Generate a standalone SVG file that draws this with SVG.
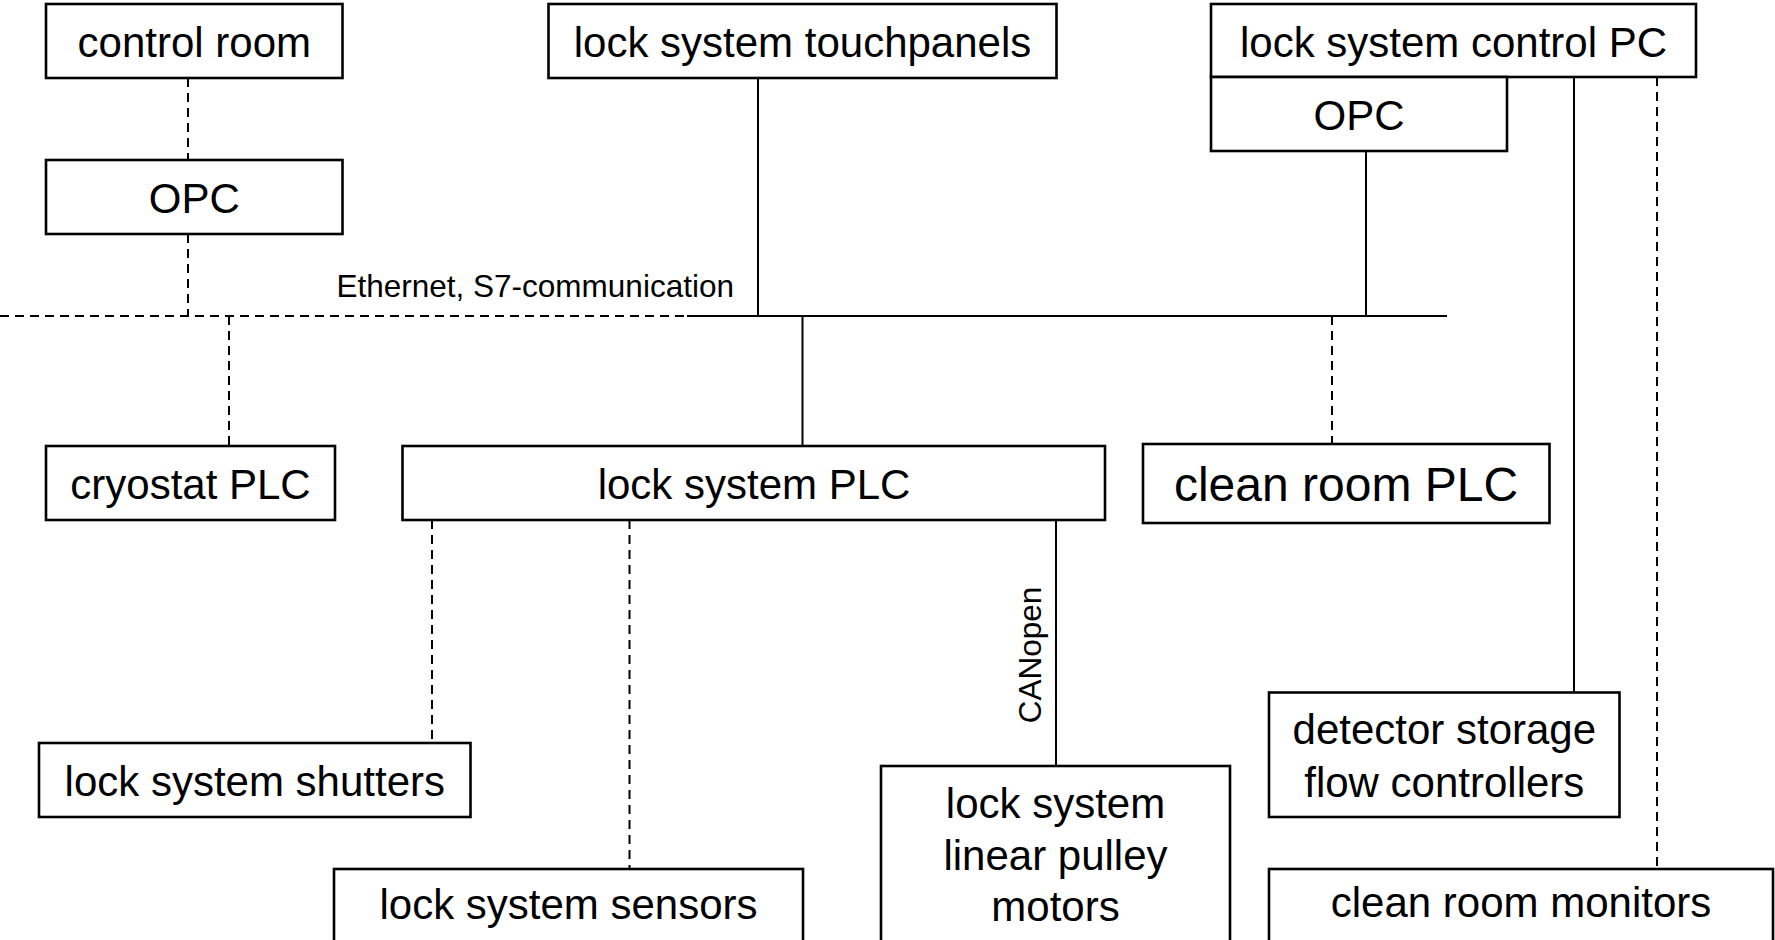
<svg xmlns="http://www.w3.org/2000/svg" width="1775" height="940" viewBox="0 0 1775 940">
<style>
.box{fill:#fff;stroke:#000;stroke-width:2.6}
.t{font-family:"Liberation Sans",Arial,sans-serif;font-size:42px;fill:#000;text-anchor:middle}
.tb{font-size:48px}
.lbl{font-family:"Liberation Sans",Arial,sans-serif;font-size:31.5px;fill:#000}
.s{stroke:#000;stroke-width:2;fill:none}
.d{stroke:#000;stroke-width:2;fill:none;stroke-dasharray:9,6}
</style>
<rect width="1775" height="940" fill="#fff"/>
<g id="connectors">
<line class="d" x1="188" y1="78" x2="188" y2="160"/>
<line class="d" x1="188" y1="234" x2="188" y2="316"/>
<line class="d" x1="0" y1="316" x2="687" y2="316"/>
<line class="s" x1="687" y1="316" x2="1447" y2="316"/>
<line class="d" x1="229" y1="316" x2="229" y2="446"/>
<line class="s" x1="758" y1="78" x2="758" y2="316"/>
<line class="s" x1="802.5" y1="316" x2="802.5" y2="446"/>
<line class="s" x1="1366" y1="151" x2="1366" y2="316"/>
<line class="d" x1="1332" y1="316" x2="1332" y2="444"/>
<line class="s" x1="1574" y1="77" x2="1574" y2="692"/>
<line class="d" x1="1657" y1="77" x2="1657" y2="869"/>
<line class="d" x1="432" y1="520" x2="432" y2="743"/>
<line class="d" x1="629.5" y1="520" x2="629.5" y2="869"/>
<line class="s" x1="1056" y1="520" x2="1056" y2="766"/>
<text class="lbl" x="336.5" y="297">Ethernet, S7-communication</text>
<text class="lbl" text-anchor="middle" transform="translate(1041,655) rotate(-90)">CANopen</text>
</g>
<g id="control-room"><rect class="box" x="46" y="4" width="296.5" height="74"/><text class="t" x="194.3" y="56.5">control room</text></g>
<g id="opc-left"><rect class="box" x="46" y="160" width="296.5" height="74"/><text class="t" x="194.3" y="212.5">OPC</text></g>
<g id="touchpanels"><rect class="box" x="548.5" y="4" width="508" height="74"/><text class="t" x="802.5" y="56.5">lock system touchpanels</text></g>
<g id="control-pc"><rect class="box" x="1211" y="4" width="485" height="73"/><text class="t" x="1453.5" y="56.5">lock system control PC</text></g>
<g id="opc-right"><rect class="box" x="1211" y="77" width="296" height="74"/><text class="t" x="1359" y="129.5">OPC</text></g>
<g id="cryostat-plc"><rect class="box" x="46" y="446" width="289" height="74"/><text class="t" x="190.5" y="498.5">cryostat PLC</text></g>
<g id="lock-plc"><rect class="box" x="402.5" y="446" width="702.5" height="74"/><text class="t" x="754" y="498.5">lock system PLC</text></g>
<g id="clean-room-plc"><rect class="box" x="1143" y="444" width="406.5" height="79"/><text class="t tb" x="1346" y="500.5">clean room PLC</text></g>
<g id="shutters"><rect class="box" x="39" y="743" width="431.5" height="74"/><text class="t" x="254.8" y="795.5">lock system shutters</text></g>
<g id="sensors"><rect class="box" x="334" y="869" width="469" height="80"/><text class="t" x="568.5" y="919">lock system sensors</text></g>
<g id="motors"><rect class="box" x="881" y="766" width="349" height="190"/><text class="t" x="1055.5" y="818">lock system</text><text class="t" x="1055.5" y="870">linear pulley</text><text class="t" x="1055.5" y="921">motors</text></g>
<g id="detector-storage"><rect class="box" x="1269" y="692.5" width="350.5" height="124.5"/><text class="t" x="1444.3" y="744">detector storage</text><text class="t" x="1444.3" y="796.5">flow controllers</text></g>
<g id="clean-room-monitors"><rect class="box" x="1269" y="869" width="504" height="80"/><text class="t" x="1521" y="917">clean room monitors</text></g>
</svg>
